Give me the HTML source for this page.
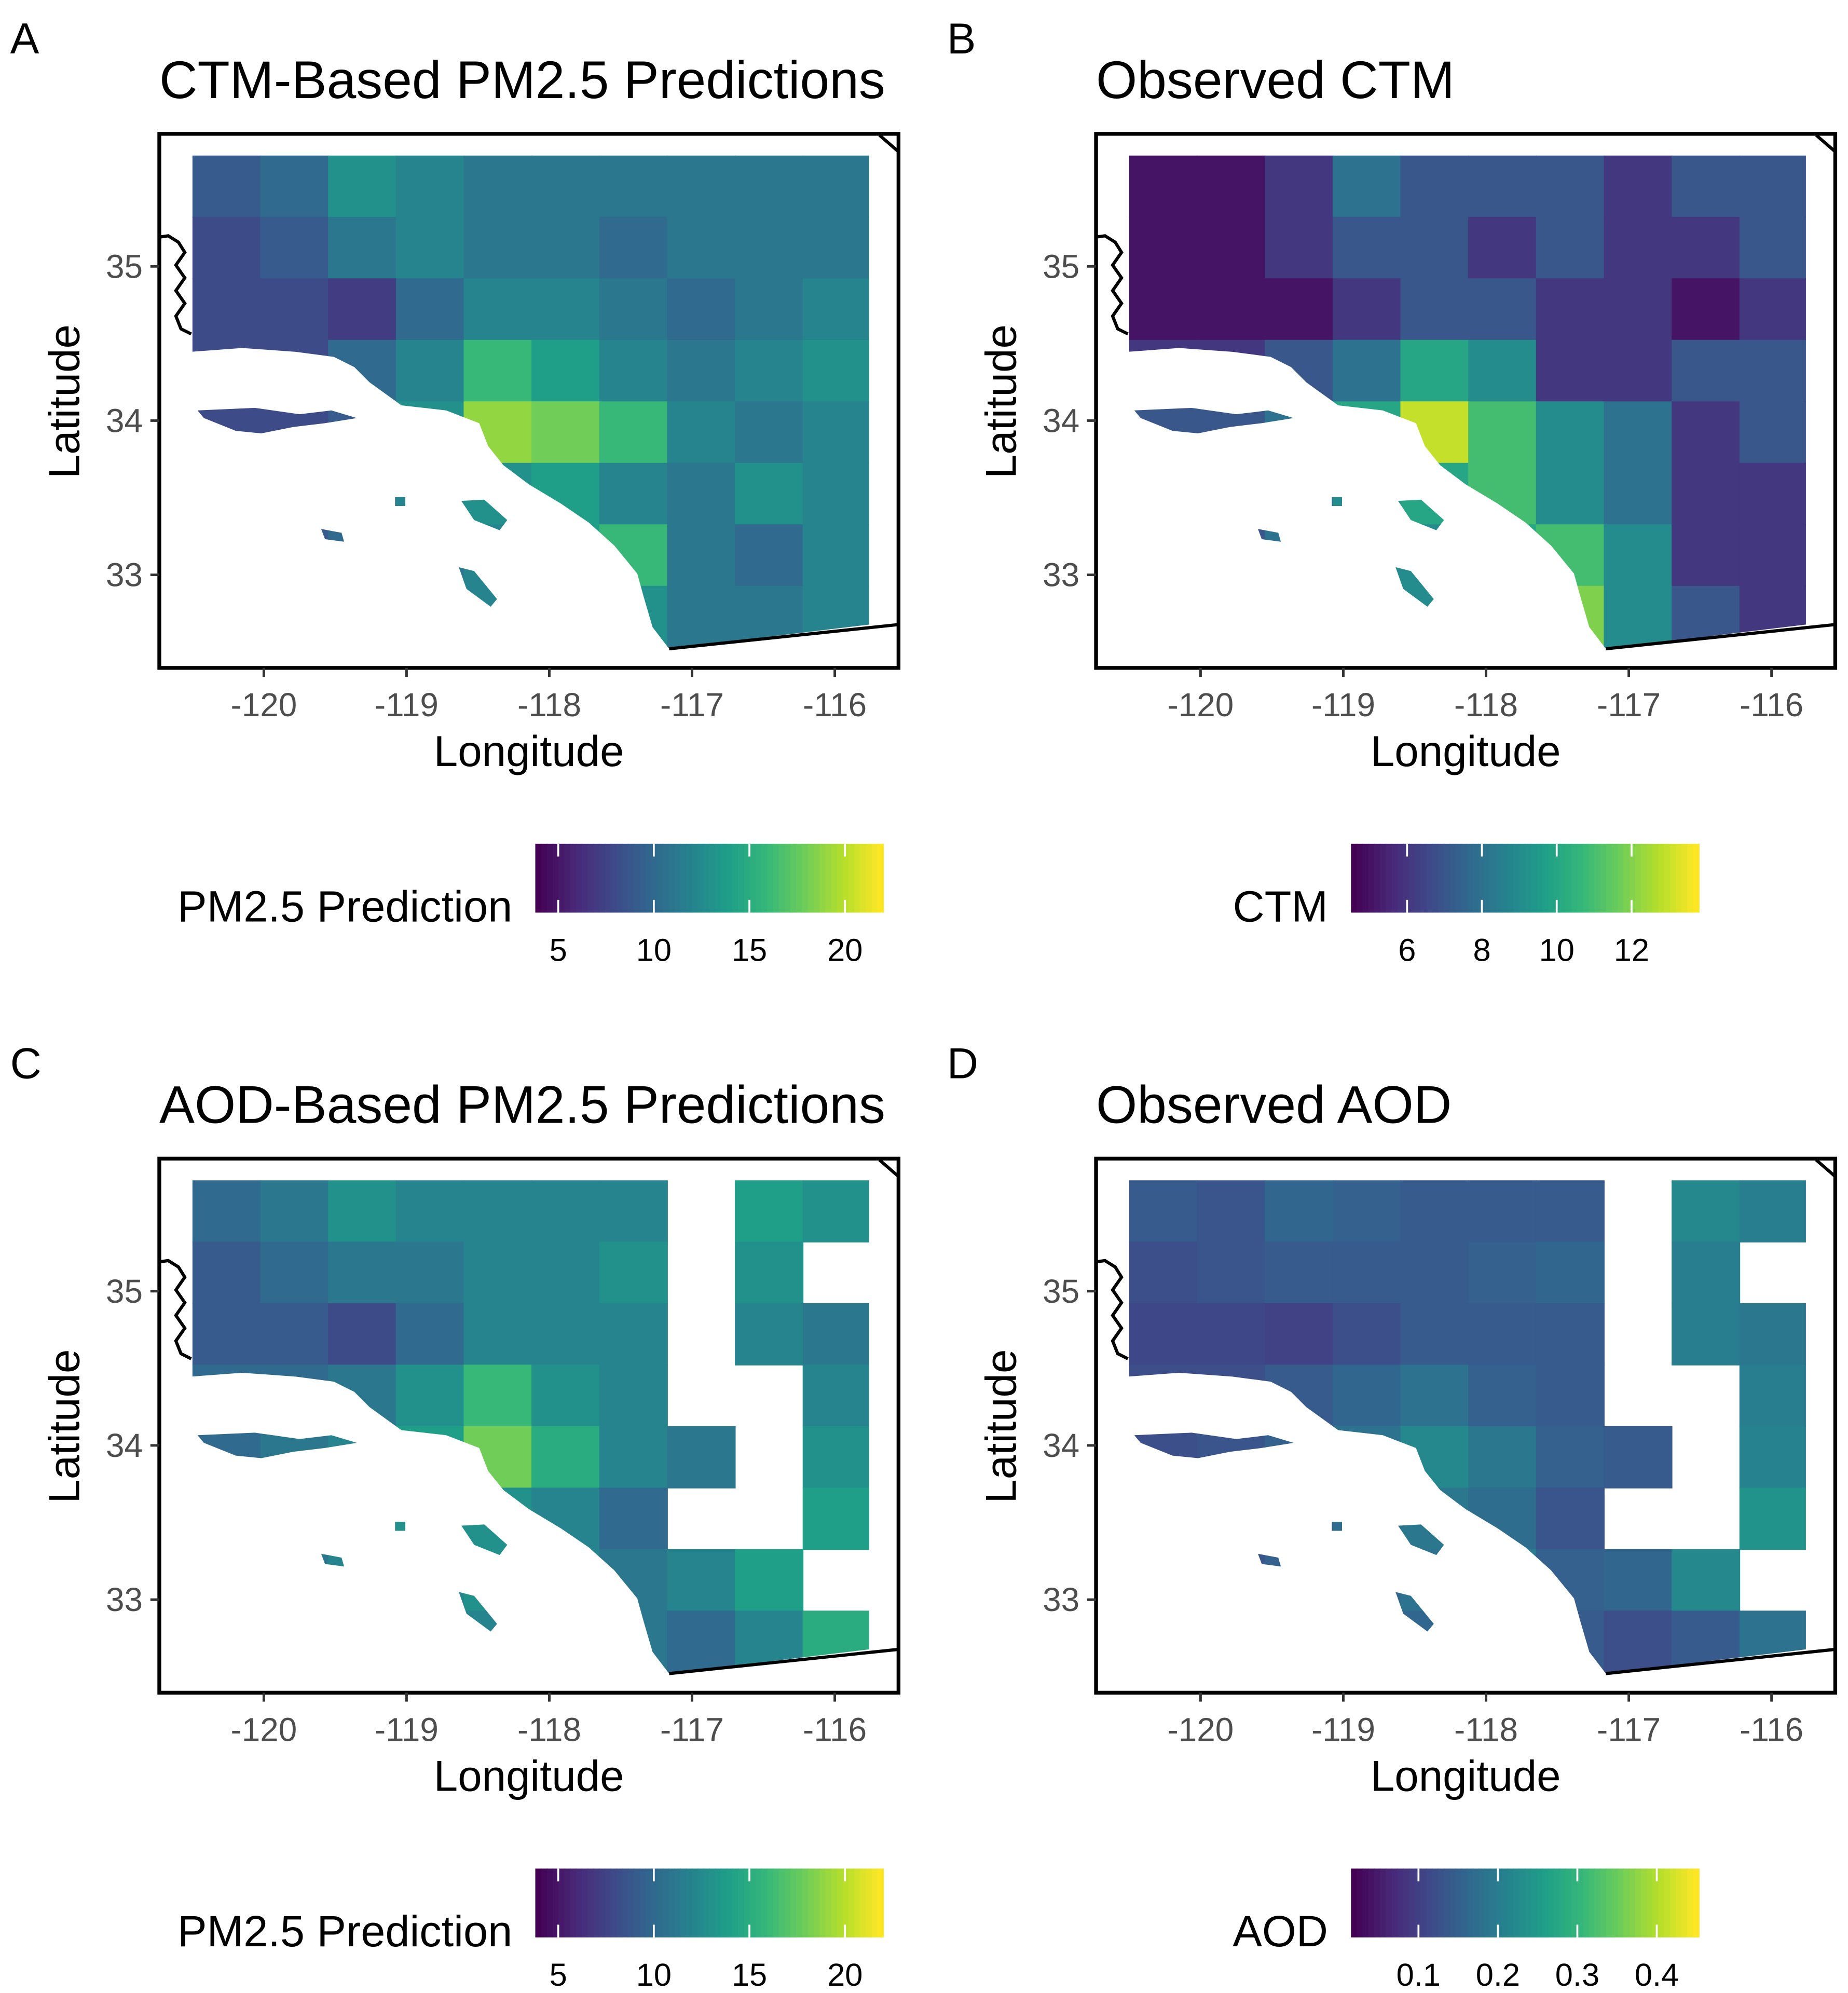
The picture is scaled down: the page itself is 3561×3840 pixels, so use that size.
<!DOCTYPE html>
<html><head><meta charset="utf-8"><style>
html,body{margin:0;padding:0;background:#fff}
svg{display:block}
text{font-family:"Liberation Sans",sans-serif}
</style></head><body>
<svg id="fig" width="3561" height="3840" viewBox="0 0 1450 1563.6" preserveAspectRatio="none" xmlns="http://www.w3.org/2000/svg">
<defs>
<clipPath id="land" clipPathUnits="userSpaceOnUse">
<path d="M150,122 L682,122 L682,490 L525,509 L512,492 L505,468 L500,450 L482,428 L462,410 L440,395 L415,380 L395,365 L383,350 L376,332 L350,322 L315,318 L290,300 L278,288 L262,280 L232,276 L190,273 L150,276 Z
M155,322 L200,320 L235,325 L260,322 L280,328 L255,332 L230,335 L205,340 L185,338 L160,328 Z
M310,390 L318,390 L318,397 L310,397 Z M252,415 L268,418 L270,425 L255,423 Z
M362,393 L380,392 L398,408 L392,416 L372,408 Z M360,445 L372,448 L390,470 L385,476 L366,462 Z"/>
</clipPath>
</defs>
</svg>
<script>
const lonTicks=[-120,-119,-118,-117,-116];
const latTicks=[35,34,33];
const panelTitles=["CTM-Based PM2.5 Predictions","Observed CTM","AOD-Based PM2.5 Predictions","Observed AOD"];
const panelLetters=["A","B","C","D"];
const legendTitles=["PM2.5 Prediction","CTM","PM2.5 Prediction","AOD"];
const legendMin=[3.8,4.5,3.8,0.015];
const legendMax=[22,13.8,22,0.453];
const legendTicksA=[5,10,15,20];
const legendTicksB=[6,8,10,12];
const legendTicksC=[5,10,15,20];
const legendTicksD=[0.1,0.2,0.3,0.4];
const gridA=[
[9,10,13,12,11,11,11,11,11,11],[8,9,11,12,11,11,10,11,11,11],[8,8,7,10,12,12,11,10,11,12],[8,8,10,12,16,14,12,11,12,13],
[8,8,9,13,19,18,16,12,11,12],[9,9,10,12,13,14,12,11,13,12],[9,9,10,11,12,14,16,11,10,12],[10,10,10,11,12,14,13,11,11,12]];
const gridB=[
[5,5,6,8,7,7,7,6,7,7],[5,5,6,7,7,6,7,6,6,7],[5,5,5,6,7,7,6,6,5,6],[6,6,7,8,10,9,6,6,7,7],
[7,7,8,10,13,11,9,8,6,7],[7,7,8,9,10,11,9,8,6,6],[7,7,8,9,9,10,11,9,6,6],[7,7,8,9,9,10,12,9,7,6]];
const gridC=[
[10,11,13,12,12,12,12,null,14,13],[9,10,11,11,12,12,13,null,13,null],[9,9,8,10,12,12,12,null,12,11],[10,10,11,13,16,13,12,null,null,12],
[10,11,12,14,18,15,12,11,null,13],[11,11,12,13,13,12,10,null,null,14],[11,11,12,12,13,12,11,12,14,null],[11,11,12,12,12,12,11,10,12,15]];
const gridD=[
[0.14,0.13,0.16,0.15,0.14,0.14,0.14,null,0.22,0.2],[0.12,0.13,0.14,0.14,0.14,0.15,0.16,null,0.2,null],[0.11,0.11,0.1,0.12,0.14,0.14,0.14,null,0.2,0.19],[0.12,0.12,0.14,0.16,0.18,0.15,0.14,null,null,0.2],
[0.12,0.13,0.15,0.18,0.22,0.19,0.15,0.14,null,0.21],[0.13,0.13,0.15,0.17,0.19,0.17,0.13,null,null,0.24],[0.13,0.13,0.15,0.16,0.18,0.2,0.15,0.16,0.22,null],[0.13,0.13,0.15,0.15,0.16,0.17,0.14,0.12,0.14,0.18]];
const grids=[gridA,gridB,gridC,gridD];
const legendTicks=[legendTicksA,legendTicksB,legendTicksC,legendTicksD];

const NS="http://www.w3.org/2000/svg";
const svg=document.getElementById("fig");
function el(t,a,p){const e=document.createElementNS(NS,t);for(const k in a)e.setAttribute(k,a[k]);(p||svg).appendChild(e);return e;}
const vir=[[68,1,84],[72,40,120],[62,74,137],[49,104,142],[38,130,142],[31,158,137],[53,183,121],[109,205,89],[180,222,44],[253,231,37]];
function viridis(t){t=Math.max(0,Math.min(1,t))*9;const i=Math.min(8,Math.floor(t)),f=t-i;const a=vir[i],b=vir[i+1];
return "rgb("+a.map((v,k)=>Math.round(v+(b[k]-v)*f)).join(",")+")";}
const xLon=l=>207+(l+120)*112;
const yLat=l=>209-(l-35)*121;
const lonMin=-120.5,lonMax=-115.75,latMax=35.72,latMin=32.53;
const offs=[[0,0],[735,0],[0,804],[735,804]];
for(let p=0;p<4;p++){
  const [ox,oy]=offs[p];
  const g=el("g",{transform:`translate(${ox},${oy})`});
  
  
  let t=el("text",{x:8,y:42,"font-size":34},g);t.textContent=panelLetters[p];
  
  t=el("text",{x:125,y:77,"font-size":41.5},g);t.textContent=panelTitles[p];
  
  const hm=el("g",{"clip-path":"url(#land)"},g);
  
  const grid=grids[p],rows=grid.length,cols=grid[0].length;
  const cw=(xLon(lonMax)-xLon(lonMin))/cols,ch=(yLat(latMin)-yLat(latMax))/rows;
  for(let r=0;r<rows;r++)for(let c=0;c<cols;c++){
    const v=grid[r][c];if(v===null)continue;
    const cell=el("rect",{x:xLon(lonMin)+c*cw,y:yLat(latMax)+r*ch,width:cw+0.6,height:ch+0.6,fill:viridis((v-legendMin[p])/(legendMax[p]-legendMin[p]))},hm);
    
  }
  const b=el("path",{d:"M690,106 L705,119 M525,509 L705,490 M150,262 L142,258 L138,248 L145,238 L138,228 L145,218 L138,208 L145,198 L140,190 L132,185 L125,186",fill:"none",stroke:"#000","stroke-width":2.5},g);
  
  const box=el("rect",{x:125,y:105,width:580,height:419,fill:"none",stroke:"#000","stroke-width":3},g);
  
  lonTicks.forEach(l=>{el("line",{x1:xLon(l),x2:xLon(l),y1:524,y2:531,stroke:"#333","stroke-width":2},g);
    const tt=el("text",{x:xLon(l),y:562,"font-size":26,fill:"#4d4d4d","text-anchor":"middle"},g);tt.textContent="-"+Math.abs(l);
    });
  latTicks.forEach(l=>{el("line",{x1:118,x2:125,y1:yLat(l),y2:yLat(l),stroke:"#333","stroke-width":2},g);
    const tt=el("text",{x:112,y:yLat(l)+9,"font-size":26,fill:"#4d4d4d","text-anchor":"end"},g);tt.textContent=l;
    });
  t=el("text",{x:415,y:601,"font-size":34,"text-anchor":"middle"},g);t.textContent="Longitude";
  
  t=el("text",{x:0,y:0,"font-size":34,"text-anchor":"middle",transform:"translate(62,315) rotate(-90)"},g);t.textContent="Latitude";
  
  // legend
  const lo=(p%2===1)?-95:0;
  const lx0=420+lo,lx1=693+lo,ly0=662,ly1=716,N=60;
  for(let i=0;i<N;i++){el("rect",{x:lx0+i*(lx1-lx0)/N,y:ly0,width:(lx1-lx0)/N+0.5,height:ly1-ly0,fill:viridis(i/(N-1))},g);}
  const sx=v=>lx0+(v-legendMin[p])/(legendMax[p]-legendMin[p])*(lx1-lx0);
  legendTicks[p].forEach(v=>{
    el("line",{x1:sx(v),x2:sx(v),y1:ly0,y2:ly0+10,stroke:"#fff","stroke-width":1.5},g);
    el("line",{x1:sx(v),x2:sx(v),y1:ly1-10,y2:ly1,stroke:"#fff","stroke-width":1.5},g);
    const tt=el("text",{x:sx(v),y:754,"font-size":25,"text-anchor":"middle"},g);tt.textContent=v;
    });
  t=el("text",{x:lx0-18,y:723,"font-size":34.5,"text-anchor":"end"},g);t.textContent=legendTitles[p];
  
}
</script>
</body></html>
